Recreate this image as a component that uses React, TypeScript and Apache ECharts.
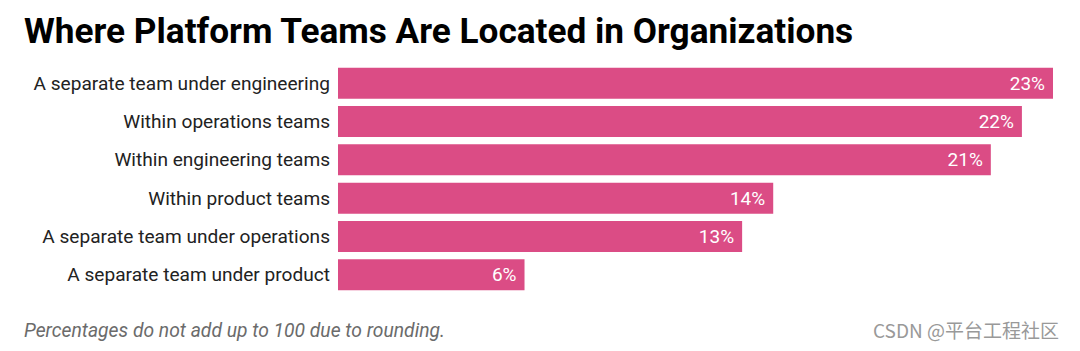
import React, { useEffect, useRef } from "react";
import * as echarts from "echarts";

const categories = [
  "A separate team under engineering",
  "Within operations teams",
  "Within engineering teams",
  "Within product teams",
  "A separate team under operations",
  "A separate team under product",
];
const values = [23, 22, 21, 14, 13, 6];

const title = "Where Platform Teams Are Located in Organizations";
const footnote = "Percentages do not add up to 100 due to rounding.";
const watermark = "CSDN @平台工程社区";

export default function App() {
  const ref = useRef<HTMLDivElement>(null);
  useEffect(() => {
    if (!ref.current) return;
    const chart = echarts.init(ref.current, null, { renderer: "svg" });
    chart.setOption({
      animation: false,
      backgroundColor: "#ffffff",
      title: {
        text: title,
        left: 19,
        top: 8,
        textStyle: { fontFamily: "Roboto", fontWeight: "bold", fontSize: 35.2, color: "#000" },
      },
      graphic: [
        {
          type: "text",
          left: 24,
          top: 321,
          style: { text: footnote, font: "italic 19.3px Roboto", fill: "#6b6b6b" },
        },
        {
          type: "text",
          left: 873,
          top: 320,
          style: { text: watermark, font: "19px 'Noto Sans CJK SC'", fill: "#999999" },
        },
      ],
      grid: { left: 338, right: 27, top: 64, height: 230, containLabel: false },
      xAxis: { type: "value", min: 0, max: 23, show: false },
      yAxis: {
        type: "category",
        data: categories,
        inverse: true,
        axisLine: { show: false },
        axisTick: { show: false },
        axisLabel: { margin: 8, fontFamily: "Roboto", fontSize: 19.1, color: "#222" },
      },
      series: [
        {
          type: "bar",
          data: values,
          barCategoryGap: "19%",
          itemStyle: { color: "#db4c85" },
          label: {
            show: true,
            position: "insideRight",
            distance: 8,
            formatter: "{c}%",
            fontFamily: "Roboto",
            fontSize: 19,
            color: "#fff",
          },
        },
      ],
    });
    return () => chart.dispose();
  }, []);
  return (
    <div
      ref={ref}
      style={{ position: "absolute", left: 0, top: 0, width: 1080, height: 351 }}
    />
  );
}
